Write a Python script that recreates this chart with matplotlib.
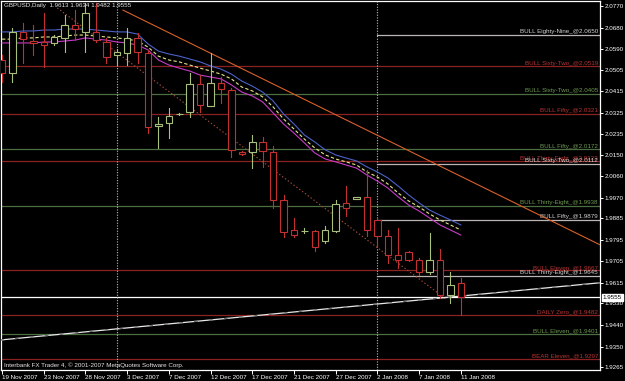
import matplotlib
matplotlib.use("Agg")
import matplotlib.pyplot as plt
from matplotlib.patches import Rectangle

# --- data (GBPUSD daily, one bar per trading day incl. Sunday bars) ---
bar_dates = ["19 Nov", "20 Nov", "21 Nov", "22 Nov", "23 Nov", "25 Nov", "26 Nov", "27 Nov",
             "28 Nov", "29 Nov", "30 Nov", "2 Dec", "3 Dec", "4 Dec", "5 Dec", "6 Dec",
             "7 Dec", "9 Dec", "10 Dec", "11 Dec", "12 Dec", "13 Dec", "14 Dec", "16 Dec",
             "17 Dec", "18 Dec", "19 Dec", "20 Dec", "21 Dec", "23 Dec", "24 Dec", "26 Dec",
             "27 Dec", "28 Dec", "30 Dec", "31 Dec", "2 Jan", "3 Jan", "4 Jan", "6 Jan",
             "7 Jan", "8 Jan", "9 Jan", "10 Jan", "11 Jan"]

opens = [2.0545, 2.0491, 2.0662, 2.0624, 2.0620, 2.0616, 2.0637, 2.0691, 2.0662, 2.0662,
         2.0620, 2.0566, 2.0574, 2.0637, 2.0574, 2.0270, 2.0282, 2.0320, 2.0328, 2.0445,
         2.0353, 2.0449, 2.0420, 2.0161, 2.0161, 2.0203, 2.0161, 1.9961, 1.9836, 1.9832,
         1.9832, 1.9790, 1.9832, 1.9949, 1.9965, 1.9974, 1.9878, 1.9811, 1.9732, 1.9744,
         1.9711, 1.9661, 1.9711, 1.9565, 1.9613]
highs = [2.0566, 2.0678, 2.0699, 2.0691, 2.0741, 2.0649, 2.0732, 2.0753, 2.0782, 2.0782,
         2.0637, 2.0591, 2.0678, 2.0657, 2.0587, 2.0307, 2.0345, 2.0324, 2.0491, 2.0482,
         2.0574, 2.0474, 2.0428, 2.0165, 2.0232, 2.0224, 2.0186, 1.9982, 1.9886, 1.9844,
         1.9836, 1.9853, 1.9961, 2.0019, 1.9974, 2.0086, 1.9886, 1.9836, 1.9844, 1.9748,
         1.9719, 1.9823, 1.9757, 1.9661, 1.9634]
lows = [2.0453, 2.0453, 2.0532, 2.0566, 2.0516, 2.0607, 2.0578, 2.0628, 2.0578, 2.0620,
        2.0532, 2.0524, 2.0524, 2.0532, 2.0240, 2.0178, 2.0220, 2.0315, 2.0307, 2.0328,
        2.0353, 2.0365, 2.0140, 2.0149, 2.0094, 2.0099, 1.9928, 1.9807, 1.9807, 1.9823,
        1.9748, 1.9782, 1.9828, 1.9894, 1.9965, 1.9811, 1.9765, 1.9698, 1.9677, 1.9707,
        1.9648, 1.9652, 1.9552, 1.9531, 1.9482]
closes = [2.0491, 2.0662, 2.0632, 2.0616, 2.0607, 2.0641, 2.0691, 2.0674, 2.0741, 2.0628,
          2.0557, 2.0578, 2.0637, 2.0578, 2.0265, 2.0278, 2.0311, 2.0320, 2.0445, 2.0357,
          2.0449, 2.0424, 2.0170, 2.0153, 2.0203, 2.0165, 1.9961, 1.9828, 1.9815, 1.9832,
          1.9765, 1.9836, 1.9944, 1.9928, 1.9974, 1.9836, 1.9811, 1.9732, 1.9711, 1.9711,
          1.9661, 1.9711, 1.9565, 1.9607, 1.9555]

# three moving-average lines (upper blue, middle yellow dashed, lower magenta)
ma_upper = [2.0662, 2.0662, 2.0666, 2.0666, 2.0670, 2.0670, 2.0674, 2.0674, 2.0674, 2.0670,
            2.0666, 2.0662, 2.0662, 2.0653, 2.0612, 2.0582, 2.0570, 2.0561, 2.0549, 2.0537,
            2.0520, 2.0507, 2.0486, 2.0457, 2.0436, 2.0411, 2.0374, 2.0320, 2.0278, 2.0232,
            2.0203, 2.0170, 2.0149, 2.0136, 2.0124, 2.0099, 2.0078, 2.0053, 2.0019, 1.9982,
            1.9949, 1.9919, 1.9898, 1.9878, 1.9857]
ma_mid = [2.0632, 2.0632, 2.0637, 2.0637, 2.0641, 2.0641, 2.0645, 2.0649, 2.0649, 2.0645,
          2.0641, 2.0637, 2.0632, 2.0624, 2.0599, 2.0561, 2.0545, 2.0537, 2.0524, 2.0511,
          2.0499, 2.0486, 2.0466, 2.0432, 2.0416, 2.0391, 2.0349, 2.0299, 2.0257, 2.0215,
          2.0178, 2.0149, 2.0132, 2.0120, 2.0107, 2.0078, 2.0057, 2.0028, 1.9990, 1.9957,
          1.9932, 1.9903, 1.9878, 1.9857, 1.9836]
ma_lower = [2.0616, 2.0616, 2.0616, 2.0616, 2.0620, 2.0620, 2.0624, 2.0628, 2.0637, 2.0632,
            2.0628, 2.0620, 2.0616, 2.0607, 2.0587, 2.0545, 2.0524, 2.0511, 2.0499, 2.0482,
            2.0474, 2.0466, 2.0441, 2.0411, 2.0395, 2.0370, 2.0324, 2.0278, 2.0240, 2.0199,
            2.0157, 2.0132, 2.0120, 2.0107, 2.0094, 2.0065, 2.0040, 2.0011, 1.9974, 1.9940,
            1.9915, 1.9886, 1.9857, 1.9836, 1.9815]

# horizontal levels drawn by the indicator
level_names = ["BULL Eighty-Nine", "BULL Sixty-Two", "BULL Sixty-Two", "BULL Fifty",
               "BULL Fifty", "BULL Thirty-Eight", "BULL Sixty-Two", "BULL Thirty-Eight",
               "BULL Fifty", "BULL Eleven", "BULL Thirty-Eight", "DAILY Zero",
               "BULL Eleven", "BEAR Eleven"]
level_prices = [2.0650, 2.0519, 2.0405, 2.0321, 2.0172, 2.0123, 2.0112, 1.9938,
                1.9879, 1.9667, 1.9645, 1.9482, 1.9401, 1.9297]
level_kinds = ["grey", "red", "green", "red", "green", "red", "grey", "green",
               "grey", "red", "grey", "red", "green", "red"]

# hand-drawn trend lines: (bar index, price) anchors
orange_x, orange_y = [11.6, 57.4], [2.0753, 1.9773]
dotted_x, dotted_y = [5.3, 42.7], [2.0762, 1.9544]
rising_x, rising_y = [-0.2, 57.4], [1.9377, 1.9616]

month_starts = [11, 36]          # period separators (1st bar of Dec and Jan)
tick_bars = [0, 4, 8, 12, 16, 20, 24, 28, 32, 36, 40, 44]
tick_labels = ["19 Nov 2007", "23 Nov 2007", "28 Nov 2007", "3 Dec 2007", "7 Dec 2007",
               "12 Dec 2007", "17 Dec 2007", "21 Dec 2007", "27 Dec 2007", "2 Jan 2008",
               "7 Jan 2008", "11 Jan 2008"]
price_ticks = [2.0770, 2.0680, 2.0590, 2.0505, 2.0415, 2.0325, 2.0235, 2.0150, 2.0060,
               1.9970, 1.9885, 1.9795, 1.9705, 1.9615, 1.9530, 1.9440, 1.9350, 1.9265]
bid = closes[-1]

plt.rcParams["font.family"] = ["Liberation Sans", "DejaVu Sans"]
FS = 4.5

BULL = "#a9c07c"
BEAR = "#c23030"
LEVEL_LINE = {"red": "#8a2222", "green": "#4c6e42", "grey": "#bfb4b4"}
LEVEL_TEXT = {"red": "#b83434", "green": "#6f9a52", "grey": "#d2d2d2"}

fig = plt.figure(figsize=(6.25, 3.81), dpi=100, facecolor="black")
ax = fig.add_axes([1 / 625, 11 / 381, 599 / 625, 369 / 381], facecolor="black")
ax.set_xlim(-0.1, 57.35)
ax.set_ylim(1.9252, 2.0791)

# levels
for name, price, kind in zip(level_names, level_prices, level_kinds):
    x0 = month_starts[-1] if kind == "grey" else -1
    ax.plot([x0, 60], [price, price], color=LEVEL_LINE[kind], lw=0.9, zorder=1)
    ax.annotate(f"{name}_@{price:.4f}", xy=(1, price), xycoords=("axes fraction", "data"),
                xytext=(-1.5, 0.4), textcoords="offset points", ha="right", va="bottom",
                color=LEVEL_TEXT[kind], fontsize=FS, zorder=2)

# bid line
ax.axhline(bid, color="white", lw=0.9, zorder=2)

# period separators
for m in month_starts:
    ax.axvline(m, color="#bdbdbd", lw=0.8, ls=(0, (1, 1.4)), zorder=2)

# trend lines
ax.plot(orange_x, orange_y, color="#d8602a", lw=0.8, zorder=3)
ax.plot(dotted_x, dotted_y, color="#a8503a", lw=0.8, ls=(0, (1.2, 2)), zorder=3)
ax.plot(rising_x, rising_y, color="#e8e8e8", lw=0.9, zorder=3)
ax.plot(rising_x, rising_y, color="#6c6c6c", lw=0.9, ls=(0, (3, 9)), zorder=3)

# moving averages
bars = list(range(len(closes)))
ax.plot(bars, ma_upper, color="#4b62c8", lw=0.8, zorder=4)
ax.plot(bars, ma_mid, color="#e6e48a", lw=0.8, ls=(0, (3, 2)), zorder=4)
ax.plot(bars, ma_lower, color="#c43cc4", lw=0.8, zorder=4)

# candles
w = 0.62
for i, (o, h, l, c) in enumerate(zip(opens, highs, lows, closes)):
    col = BULL if c >= o else BEAR
    ax.plot([i, i], [l, h], color=col, lw=0.8, zorder=5)
    ax.add_patch(Rectangle((i - w / 2, min(o, c)), w, abs(c - o), facecolor="black",
                           edgecolor=col, lw=0.8, zorder=6))

# axes styling
for side in ["left", "right", "top", "bottom"]:
    ax.spines[side].set_color("white")
    ax.spines[side].set_linewidth(0.9)
ax.yaxis.tick_right()
ax.set_yticks(price_ticks)
ax.set_yticklabels([f"{p:.4f}" for p in price_ticks])
ax.tick_params(axis="y", colors="white", labelsize=FS, length=2, width=0.7, pad=1.2)
ax.set_xticks(tick_bars)
ax.set_xticklabels(tick_labels, ha="left")
ax.tick_params(axis="x", colors="white", labelsize=FS, length=3, width=0.7, pad=0.8)

# current price box on the scale
ax.annotate(f"{bid:.4f}", xy=(1, bid), xycoords=("axes fraction", "data"), xytext=(2.0, 0),
            textcoords="offset points", ha="left", va="center", fontsize=FS, color="black",
            bbox=dict(boxstyle="square,pad=0.12", fc="white", ec="white"), zorder=10,
            annotation_clip=False)

# header and footer
ax.text(0.005, 0.987, f"GBPUSD,Daily  {opens[-1]:.4f} {highs[-1]:.4f} {lows[-1]:.4f} {closes[-1]:.4f}",
        transform=ax.transAxes, color="#e6e6e6", fontsize=FS, ha="left", va="center", zorder=8)
ax.text(0.005, 0.013, "Interbank FX Trader 4, \u00a9 2001-2007 MetaQuotes Software Corp.",
        transform=ax.transAxes, color="#e6e6e6", fontsize=FS, ha="left", va="center", zorder=8)

fig.savefig("out.png", dpi=100, facecolor="black")
